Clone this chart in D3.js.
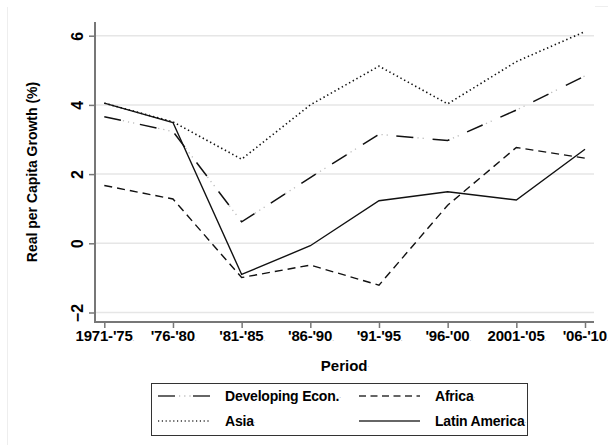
<!DOCTYPE html>
<html>
<head>
<meta charset="utf-8">
<script src="https://cdn.jsdelivr.net/npm/d3@7"></script>
<style>
  html, body { margin: 0; padding: 0; background: #fff; }
  svg { display: block; }
  text { font-family: "Liberation Sans", Arial, sans-serif; font-weight: bold; fill: #000; }
</style>
</head>
<body>
<svg id="chart" width="608" height="445"></svg>
<script>
// Periods on the x axis
const periods = ["1971-'75", "'76-'80", "'81-'85", "'86-'90", "'91-'95", "'96-'00", "2001-'05", "'06-'10"];

// Real per capita growth (%) by region
const developingEcon = [3.66, 3.23, 0.62, 1.9, 3.15, 2.97, 3.85, 4.84];
const asia           = [4.05, 3.51, 2.43, 4.0, 5.12, 4.03, 5.25, 6.12];
const africa         = [1.67, 1.28, -0.99, -0.63, -1.21, 1.1, 2.77, 2.46];
const latinAmerica   = [4.05, 3.49, -0.90, -0.07, 1.23, 1.49, 1.25, 2.72];

const yTicks = [-2, 0, 2, 4, 6];

const series = [
  { name: "Developing Econ.", values: developingEcon, style: "dashdot" },
  { name: "Asia", values: asia, style: "dot" },
  { name: "Africa", values: africa, style: "dash" },
  { name: "Latin America", values: latinAmerica, style: "solid" }
];

const svg = d3.select("#chart");

const plot = { left: 95, right: 594, top: 22, bottom: 322 };

const x = d3.scalePoint().domain(periods).range([104.3, 585]);
const y = d3.scaleLinear().domain([0, 6]).range([243.3, 35.7]);

// faint frame edge of the graph region
svg.append("line").attr("x1", 7.5).attr("x2", 7.5).attr("y1", 7).attr("y2", 445)
  .attr("stroke", "#eeeeee").attr("stroke-width", 1);
svg.append("line").attr("x1", 595).attr("x2", 608).attr("y1", 6.5).attr("y2", 6.5)
  .attr("stroke", "#eeeeee").attr("stroke-width", 1);

// horizontal grid
svg.append("g").selectAll("line").data(yTicks).join("line")
  .attr("x1", plot.left).attr("x2", plot.right)
  .attr("y1", d => y(d)).attr("y2", d => y(d))
  .attr("stroke", "#e6e6e6").attr("stroke-width", 1.5);

// y axis
const yAxis = svg.append("g").attr("transform", `translate(${plot.left},0)`)
  .call(d3.axisLeft(y).tickValues(yTicks).tickSize(6).tickPadding(0).tickFormat(d3.format("d")));
yAxis.select(".domain").remove();
yAxis.selectAll(".tick line").attr("stroke", "#777").attr("stroke-width", 1.5);
yAxis.selectAll(".tick text")
  .attr("x", 0).attr("dy", null)
  .attr("transform", "translate(-18,0) rotate(-90)")
  .attr("text-anchor", "middle")
  .attr("dominant-baseline", "central")
  .style("font-size", "16px");
svg.append("line").attr("x1", plot.left).attr("x2", plot.left)
  .attr("y1", plot.top).attr("y2", plot.bottom)
  .attr("stroke", "#777").attr("stroke-width", 2);

// x axis
const xAxis = svg.append("g").attr("transform", `translate(0,${plot.bottom})`)
  .call(d3.axisBottom(x).tickSize(6).tickPadding(1));
xAxis.select(".domain").remove();
xAxis.selectAll(".tick line").attr("stroke", "#777").attr("stroke-width", 1.5);
xAxis.selectAll(".tick text").style("font-size", "15px").attr("dy", "0.78em")
  .style("letter-spacing", "-0.2px")
  .each(function(d) {
    const t = d3.select(this);
    t.text(null);
    t.append("tspan").text(d);
    t.append("tspan").text(".").style("font-size", "6px").style("font-weight", "normal").attr("fill", "#666");
  });
svg.append("line").attr("x1", plot.left - 1).attr("x2", plot.right)
  .attr("y1", plot.bottom).attr("y2", plot.bottom)
  .attr("stroke", "#777").attr("stroke-width", 2);

// axis titles
svg.append("text")
  .attr("transform", "translate(32,172) rotate(-90)")
  .attr("text-anchor", "middle").attr("dominant-baseline", "central")
  .style("font-size", "14px").text("Real per Capita Growth (%)");

const pt = svg.append("text").attr("x", 345).attr("y", 365)
  .attr("text-anchor", "middle").attr("dominant-baseline", "central")
  .style("font-size", "15px");
pt.append("tspan").text("Period");
pt.append("tspan").text(".").style("font-size", "6px").style("font-weight", "normal").attr("fill", "#666");

// line styles
const dashes = {
  solid: null,
  dash: "8,5",
  dot: "1.4,2.8"
};

const line = d3.line().x((d, i) => x(periods[i])).y(d => y(d));

function drawSeries(g, s) {
  if (s.style === "dashdot") {
    // faint dots that sit in the gaps of the long dashes
    g.append("path").datum(s.values).attr("d", line)
      .attr("fill", "none").attr("stroke", "#bbb").attr("stroke-width", 1.3)
      .attr("stroke-dasharray", "0,19,1.2,4,1.2,4,1.2,5.5");
    g.append("path").datum(s.values).attr("d", line)
      .attr("fill", "none").attr("stroke", "#111").attr("stroke-width", 1.5)
      .attr("stroke-dasharray", "17,19.4");
  } else {
    g.append("path").datum(s.values).attr("d", line)
      .attr("fill", "none").attr("stroke", "#111")
      .attr("stroke-width", s.style === "dot" ? 1.6 : 1.4)
      .attr("stroke-dasharray", dashes[s.style]);
  }
}

const lines = svg.append("g");
series.forEach(s => drawSeries(lines.append("g"), s));

// legend
const lg = svg.append("g");
lg.append("rect").attr("x", 151.5).attr("y", 383.5).attr("width", 376).attr("height", 52)
  .attr("fill", "#fff").attr("stroke", "#333").attr("stroke-width", 1);

const legendPos = [
  { s: series[0], kx: 158, tx: 225, cy: 396 },
  { s: series[2], kx: 359, tx: 435, cy: 396 },
  { s: series[1], kx: 158, tx: 225, cy: 421 },
  { s: series[3], kx: 359, tx: 435, cy: 421 }
];
legendPos.forEach(p => {
  const kw = p.kx === 158 ? 52 : 61;
  const kg = lg.append("g");
  if (p.s.style === "dashdot") {
    kg.append("line").attr("x1", p.kx).attr("x2", p.kx + 17).attr("y1", p.cy).attr("y2", p.cy)
      .attr("stroke", "#333").attr("stroke-width", 1.5);
    kg.append("line").attr("x1", p.kx + kw - 17).attr("x2", p.kx + kw).attr("y1", p.cy).attr("y2", p.cy)
      .attr("stroke", "#333").attr("stroke-width", 1.5);
    kg.append("line").attr("x1", p.kx + 21).attr("x2", p.kx + 33).attr("y1", p.cy).attr("y2", p.cy)
      .attr("stroke", "#bbb").attr("stroke-width", 1.3).attr("stroke-dasharray", "1.2,4");
  } else {
    kg.append("line").attr("x1", p.kx).attr("x2", p.kx + kw).attr("y1", p.cy).attr("y2", p.cy)
      .attr("stroke", "#333").attr("stroke-width", p.s.style === "dot" ? 1.4 : 1.5)
      .attr("stroke-dasharray", p.s.style === "dot" ? "1.2,2.6" : (p.s.style === "dash" ? "7,4.5" : null));
  }
  const t = lg.append("text").attr("x", p.tx).attr("y", p.cy)
    .attr("dominant-baseline", "central").style("font-size", "14px").style("letter-spacing", "-0.2px");
  t.append("tspan").text(p.s.name);
  t.append("tspan").text(".").style("font-size", "6px").style("font-weight", "normal").attr("fill", "#666");
});
</script>
</body>
</html>
